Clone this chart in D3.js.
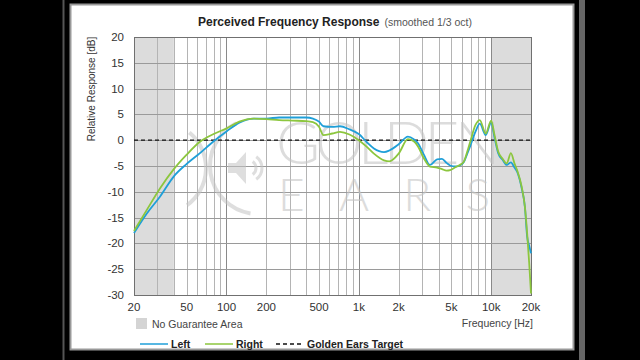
<!DOCTYPE html>
<html>
<head>
<meta charset="utf-8">
<script src="https://cdn.jsdelivr.net/npm/d3@7"></script>
<style>
  body { margin: 0; background: #000; }
  svg { display: block; font-family: "Liberation Sans", Arial, sans-serif; }
</style>
</head>
<body>
<div id="wrapper"></div>
<script>
// data
const freqs = [20, 25, 31.5, 40, 50, 63, 80, 100, 125, 160, 200, 250, 315, 400, 450, 500, 540, 630, 720, 850,
  1000, 1150, 1300, 1550, 1700, 2000, 2350, 2600, 2800, 3100, 3450, 3900, 4250, 4600, 4900, 5400, 5800, 6200,
  6600, 7000, 7600, 8200, 9100, 10000, 10600, 11300, 12200, 13100, 14100, 15000, 15700, 17000, 18000, 18700,
  19400, 20000];
const leftDb = [-18.0, -14.2, -10.9, -7.0, -4.6, -2.5, -0.2, 1.7, 3.4, 4.2, 4.2, 4.4, 4.4, 4.4, 4.2, 3.6, 2.7, 2.6,
  2.7, 2.1, 1.2, -0.4, -1.6, -2.3, -2.0, -0.8, 0.7, 0.2, -0.6, -2.8, -4.8, -3.7, -3.6, -4.4, -4.9, -5.1, -4.9,
  -4.3, -2.6, -0.9, 1.6, 3.2, 1.0, 3.4, 0.5, -2.5, -3.8, -4.8, -4.3, -5.3, -6.1, -9.3, -13.0, -18.7, -20.5, -21.9];
const rightDb = [-17.6, -13.5, -9.3, -5.6, -2.8, -0.3, 1.2, 2.3, 3.6, 4.2, 4.1, 3.9, 3.8, 3.7, 3.5, 2.6, 1.0, 1.3,
  1.6, 1.1, 0.0, -1.3, -2.6, -3.9, -4.1, -2.6, 0.2, -0.2, -1.2, -3.5, -5.1, -5.3, -5.6, -5.9, -5.8, -5.2, -4.8,
  -4.2, -2.2, 0.0, 2.9, 3.9, 1.3, 3.8, 1.0, -2.2, -3.6, -4.5, -2.5, -4.5, -5.8, -9.0, -13.0, -18.0, -24.0, -29.7];
const targetDb = 0;

const xTicks = [20, 50, 100, 200, 500, 1000, 2000, 5000, 10000, 20000];
const xTickLabels = ["20", "50", "100", "200", "500", "1k", "2k", "5k", "10k", "20k"];
const yTicks = [20, 15, 10, 5, 0, -5, -10, -15, -20, -25, -30];
const noGuarantee = [[20, 40], [10000, 20000]];

// dimensions
const width = 640;
const height = 360;
const plot = { left: 134, right: 531, top: 37, bottom: 295 };

const svg = d3.select("#wrapper").append("svg")
  .attr("width", width)
  .attr("height", height);

// frame
svg.append("rect").attr("width", width).attr("height", height).attr("fill", "#000");
svg.append("rect").attr("x", 62.5).attr("y", 0).attr("width", 2).attr("height", height).attr("fill", "#555");
svg.append("rect").attr("x", 579).attr("y", 0).attr("width", 6).attr("height", height).attr("fill", "#666");
svg.append("rect").attr("x", 70.5).attr("y", 4.5).attr("width", 503).attr("height", 345)
  .attr("fill", "#fff").attr("stroke", "#999").attr("stroke-width", 2);

// scales
const x = d3.scaleLog().domain([20, 20000]).range([plot.left, plot.right]);
const y = d3.scaleLinear().domain([-30, 20]).range([plot.bottom, plot.top]);

const g = svg.append("g");

// grey areas
g.selectAll("rect.ng").data(noGuarantee).join("rect")
  .attr("class", "ng")
  .attr("x", d => x(d[0]))
  .attr("y", plot.top)
  .attr("width", d => x(d[1]) - x(d[0]))
  .attr("height", plot.bottom - plot.top)
  .attr("fill", "#dcdcdc");

// vertical grid
const minor = [];
[10, 100, 1000, 10000].forEach(dec => {
  for (let k = 1; k <= 9; k++) {
    const f = dec * k;
    if (f > 20 && f < 20000) minor.push(f);
  }
});
g.selectAll("line.vg").data(minor).join("line")
  .attr("class", "vg")
  .attr("x1", d => Math.round(x(d)) + 0.5).attr("x2", d => Math.round(x(d)) + 0.5)
  .attr("y1", plot.top).attr("y2", plot.bottom)
  .attr("stroke", d => [100, 1000, 10000].includes(d) ? "#8a8a8a" : "#b4b4b4")
  .attr("stroke-width", 1);

// horizontal grid
g.selectAll("line.hg").data(yTicks).join("line")
  .attr("class", "hg")
  .attr("x1", plot.left).attr("x2", plot.right)
  .attr("y1", d => Math.round(y(d)) + 0.5).attr("y2", d => Math.round(y(d)) + 0.5)
  .attr("stroke", "#9a9a9a");

// watermark
const wm = svg.append("g").attr("opacity", 0.55).attr("fill", "none").attr("stroke", "#c4c4c4");
wm.append("path")
  .attr("transform", "translate(160,168)")
  .attr("stroke-width", 4)
  .attr("d", d3.arc().innerRadius(46).outerRadius(46).startAngle(Math.PI * 0.22).endAngle(Math.PI * 0.8)());
wm.append("path")
  .attr("transform", "translate(258,166)")
  .attr("stroke-width", 4)
  .attr("d", d3.arc().innerRadius(48).outerRadius(48).startAngle(Math.PI * 1.05).endAngle(Math.PI * 1.85)());
wm.append("path")
  .attr("fill", "#c4c4c4").attr("stroke", "none")
  .attr("d", "M228,163 L236,163 L246,152 L246,184 L236,173 L228,173 Z");
[8, 14].forEach(r => {
  wm.append("path")
    .attr("transform", "translate(248,168)")
    .attr("stroke-width", 3)
    .attr("d", d3.arc().innerRadius(r).outerRadius(r).startAngle(Math.PI * 0.2).endAngle(Math.PI * 0.8)());
});
// one text element, two lines
const wmText = svg.append("text").attr("opacity", 0.6)
  .style("font-family", "Lato, 'Open Sans', sans-serif")
  .style("font-weight", 300)
  .attr("fill", "#c6c6c6");
wmText.append("tspan").attr("x", 276).attr("y", 164)
  .attr("font-size", 60).attr("textLength", 224).attr("lengthAdjust", "spacing")
  .text("GOLDEN");
wmText.append("tspan").attr("x", 278).attr("y", 211)
  .attr("font-size", 46).attr("textLength", 212).attr("lengthAdjust", "spacing")
  .text("EARS");

// plot border
svg.append("rect")
  .attr("x", plot.left + 0.5).attr("y", plot.top + 0.5)
  .attr("width", plot.right - plot.left).attr("height", plot.bottom - plot.top)
  .attr("fill", "none").attr("stroke", "#707070");

// target line
svg.append("line")
  .attr("x1", plot.left).attr("x2", plot.right)
  .attr("y1", y(targetDb)).attr("y2", y(targetDb))
  .attr("stroke", "#111").attr("stroke-width", 1.3).attr("stroke-dasharray", "4,3");

// curves
const line = d3.line()
  .x((d, i) => x(freqs[i]))
  .y(d => y(d))
  .curve(d3.curveMonotoneX);

svg.append("path").datum(leftDb)
  .attr("d", line).attr("fill", "none")
  .attr("stroke", "#1f9fd8").attr("stroke-width", 1.8);
svg.append("path").datum(rightDb)
  .attr("d", line).attr("fill", "none")
  .attr("stroke", "#8cc63e").attr("stroke-width", 1.8);

// axes labels
svg.append("g").selectAll("text").data(yTicks).join("text")
  .attr("x", 124).attr("y", d => y(d) + 4)
  .attr("text-anchor", "end")
  .attr("font-size", 11.5).attr("fill", "#333")
  .text(d => d);

svg.append("g").selectAll("text").data(xTicks).join("text")
  .attr("x", d => x(d)).attr("y", 311)
  .attr("text-anchor", "middle")
  .attr("font-size", 11.5).attr("fill", "#333")
  .text((d, i) => xTickLabels[i]);

svg.append("text")
  .attr("transform", "translate(95,89) rotate(-90)")
  .attr("text-anchor", "middle")
  .attr("font-size", 10).attr("fill", "#333")
  .text("Relative Response [dB]");

// title
const title = svg.append("text").attr("x", 198).attr("y", 26).attr("fill", "#222");
title.append("tspan").attr("font-size", 12).attr("font-weight", "bold").text("Perceived Frequency Response");
title.append("tspan").attr("dx", 5).attr("font-size", 10.5).attr("fill", "#555").text("(smoothed 1/3 oct)");

// legend row 1
svg.append("rect").attr("x", 136).attr("y", 318).attr("width", 11).attr("height", 11).attr("fill", "#d4d4d4");
svg.append("text").attr("x", 152).attr("y", 328).attr("font-size", 10.5).attr("fill", "#444").text("No Guarantee Area");
svg.append("text").attr("x", 533).attr("y", 327).attr("text-anchor", "end")
  .attr("font-size", 10.5).attr("fill", "#444").text("Frequency [Hz]");

// legend row 2
const legend = [
  { label: "Left", color: "#1f9fd8", dash: null, x: 140 },
  { label: "Right", color: "#8cc63e", dash: null, x: 205 },
  { label: "Golden Ears Target", color: "#111", dash: "4,3", x: 276 }
];
const lg = svg.append("g").selectAll("g").data(legend).join("g");
lg.append("line")
  .attr("x1", d => d.x).attr("x2", d => d.x + 28)
  .attr("y1", 344).attr("y2", 344)
  .attr("stroke", d => d.color).attr("stroke-width", 1.5)
  .attr("stroke-dasharray", d => d.dash);
lg.append("text")
  .attr("x", d => d.x + 31).attr("y", 348)
  .attr("font-size", 10.5).attr("font-weight", "bold").attr("fill", "#222")
  .text(d => d.label);
</script>
</body>
</html>
